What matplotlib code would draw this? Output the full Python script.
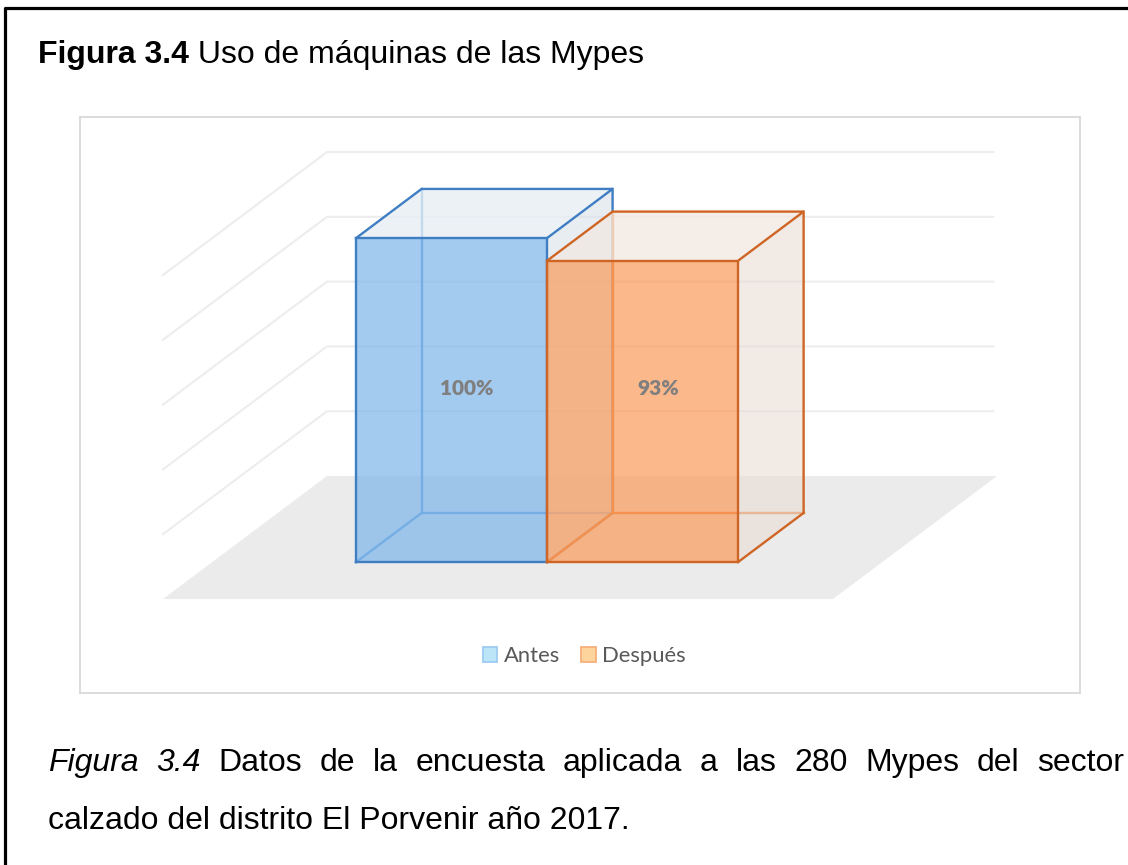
import matplotlib
matplotlib.use("Agg")
import matplotlib.pyplot as plt
from matplotlib.patches import Polygon, Patch

# ---------------- data ----------------
categories = ["Antes", "Después"]
values = [100, 93]
value_labels = ["100%", "93%"]
grid_values = [0, 20, 40, 60, 80, 100]

title_bold = "Figura 3.4"
title_rest = " Uso de máquinas de las Mypes"
caption_line1 = ["Figura", "3.4", "Datos", "de", "la", "encuesta", "aplicada", "a",
                 "las", "280", "Mypes", "del", "sector"]
caption_italic_count = 2
caption_line2 = "calzado del distrito El Porvenir año 2017."

# ---------------- style ----------------
face_colors = ["#7DB5EA", "#FA9A5A"]
top_colors = ["#E6EDF4", "#F2E8E1"]
side_colors = ["#D9E1EA", "#E8DCD4"]
edge_colors = ["#3F7EC2", "#CF6524"]
hidden_edge_colors = ["#5B9BD5", "#ED7D31"]
legend_face = ["#BDE5F8", "#FDD49C"]
legend_edge = ["#9DCBF3", "#F7B07A"]
floor_color = "#EBEBEB"
grid_color = "#EDEDED"

W, H = 1128, 865
fig = plt.figure(figsize=(W / 100, H / 100), dpi=100)
fig.patch.set_facecolor("white")

# outer document frame
frame = fig.add_axes([0, 0, 1, 1], zorder=-5)
frame.set_xlim(0, W)
frame.set_ylim(H, 0)
frame.axis("off")
frame.plot([5, 5, W + 5], [H + 5, 8, 8], color="black", lw=2.3, solid_capstyle="butt")

# chart box
ax = fig.add_axes([80 / W, (H - 693) / H, 1000 / W, 576 / H])
for s in ax.spines.values():
    s.set_color("#D9D9D9")
    s.set_linewidth(1.3)
ax.set_xticks([])
ax.set_yticks([])

# oblique projection parameters (layout): depth z in [0,1]
DX, DY = 0.8586, 37.96     # shift of full floor depth in (category units, percent)
FX0, FX1 = -0.753, 2.755   # floor extent in category units
Z0, Z1 = 0.3, 0.7          # bar depth extent
ax.set_xlim(-1.1874, 4.048)
ax.set_ylim(-29.01, 148.77)


def P(x, z, v):
    return (x + z * DX, v + z * DY)


# floor
ax.add_patch(Polygon([P(FX0, 0, 0), P(FX1, 0, 0), P(FX1, 1, 0), P(FX0, 1, 0)],
                     closed=True, facecolor=floor_color, edgecolor="none", zorder=1))
# gridlines: back wall and left wall
for g in grid_values:
    if g == 0:
        continue
    xs, ys = zip(P(FX0, 0, g), P(FX0, 1, g), P(FX1 - 0.02, 1, g))
    ax.plot(xs, ys, color=grid_color, lw=1.5, zorder=1.5, solid_joinstyle="miter")

# bars
for i, (cat, v) in enumerate(zip(categories, values)):
    x0, x1 = i, i + 1
    zb = 2 + i * 3
    ec, hc = edge_colors[i], hidden_edge_colors[i]
    # hidden edges
    hidden = [
        [P(x0, Z1, 0), P(x0, Z1, v)],
        [P(x0, Z1, 0), P(x1, Z1, 0)],
        [P(x0, Z0, 0), P(x0, Z1, 0)],
    ]
    for seg in hidden:
        xs, ys = zip(*seg)
        ax.plot(xs, ys, color=hc, lw=1.7, zorder=zb, alpha=0.95)
    # faces
    top = [P(x0, Z0, v), P(x1, Z0, v), P(x1, Z1, v), P(x0, Z1, v)]
    side = [P(x1, Z0, 0), P(x1, Z1, 0), P(x1, Z1, v), P(x1, Z0, v)]
    front = [P(x0, Z0, 0), P(x1, Z0, 0), P(x1, Z0, v), P(x0, Z0, v)]
    ax.add_patch(Polygon(side, closed=True, facecolor=side_colors[i], alpha=0.6,
                         edgecolor="none", zorder=zb + 0.5))
    ax.add_patch(Polygon(top, closed=True, facecolor=top_colors[i], alpha=0.75,
                         edgecolor="none", zorder=zb + 0.5))
    ax.add_patch(Polygon(front, closed=True, facecolor=face_colors[i], alpha=0.7,
                         edgecolor="none", zorder=zb + 0.6))
    # visible edges
    visible = [
        front + [front[0]],
        [P(x0, Z0, v), P(x0, Z1, v), P(x1, Z1, v), P(x1, Z0, v)],
        [P(x1, Z1, v), P(x1, Z1, 0), P(x1, Z0, 0)],
    ]
    for seg in visible:
        xs, ys = zip(*seg)
        ax.plot(xs, ys, color=ec, lw=1.7, zorder=zb + 1, solid_joinstyle="miter")

# data labels
for i, lab in enumerate(value_labels):
    lx, ly = P(i + 0.5, 0.395, max(values) / 2)
    ax.text(lx, ly, lab, ha="center", va="center", fontsize=15, fontweight="heavy",
            color="#7F7F7F", family="Lato", zorder=20)

# legend
handles = [Patch(facecolor=legend_face[i], edgecolor=legend_edge[i], linewidth=1.3,
                 label=categories[i]) for i in range(len(categories))]
leg = ax.legend(handles=handles, loc="center", bbox_to_anchor=(0.504, 0.064), ncol=2,
                frameon=False, handlelength=0.68, handleheight=0.68, handletextpad=0.28,
                columnspacing=0.95, prop={"family": "Lato", "size": 15.8})
for t in leg.get_texts():
    t.set_color("#595959")

# title
renderer = fig.canvas.get_renderer()
arial = "Liberation Sans"
fs = 23
t1 = fig.text(38 / W, 1 - 63 / H, title_bold, fontsize=fs, fontweight="bold",
              family=arial, va="baseline", ha="left")
bb = t1.get_window_extent(renderer)
fig.text(bb.x1 / W, 1 - 63 / H, title_rest, fontsize=fs, family=arial,
         va="baseline", ha="left")

# caption line 1 justified
x_start, x_end = 48, 1124
base1 = 1 - 771 / H
words = []
for k, w in enumerate(caption_line1):
    style = "italic" if k < caption_italic_count else "normal"
    t = fig.text(0, base1, w, fontsize=fs, family=arial, style=style,
                 va="baseline", ha="left")
    words.append(t)
widths = [t.get_window_extent(renderer).width for t in words]
gap = (x_end - x_start - sum(widths)) / (len(words) - 1)
xp = x_start
for t, wd in zip(words, widths):
    t.set_x(xp / W)
    xp += wd + gap

fig.text(48 / W, 1 - 829 / H, caption_line2, fontsize=fs, family=arial,
         va="baseline", ha="left")

fig.savefig("out.png", dpi=100, facecolor="white")
